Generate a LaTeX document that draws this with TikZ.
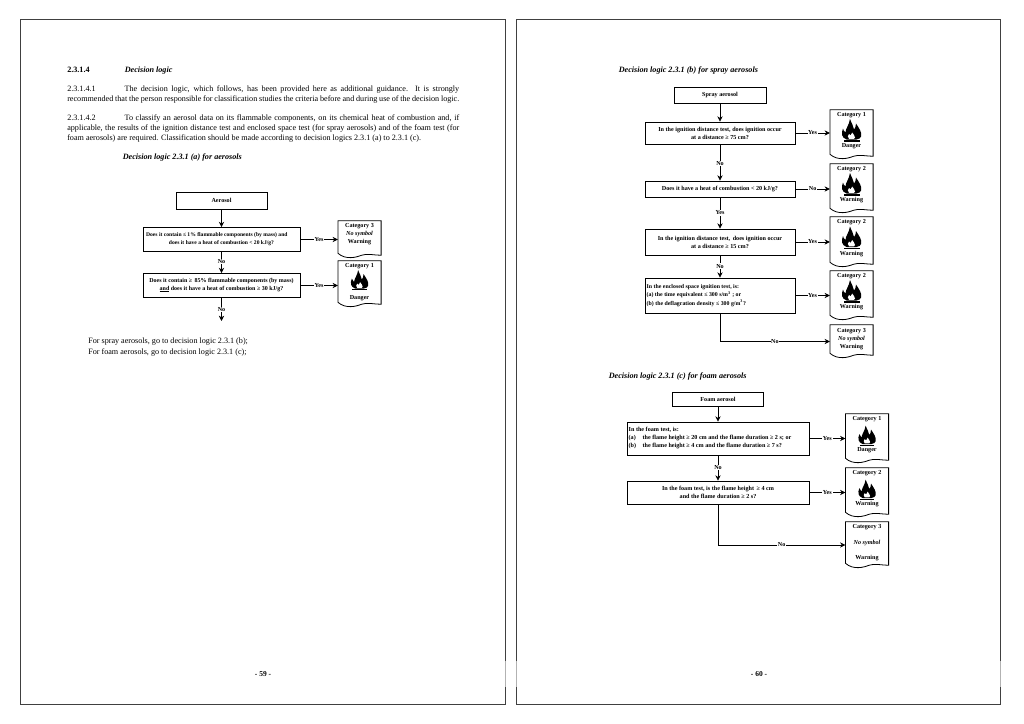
\documentclass[tikz,border=0pt]{standalone}
\usepackage{fontspec}
\setmainfont{Liberation Serif}
\usetikzlibrary{arrows.meta,calc}

\tikzset{
	pageedge/.style={draw=black!75,line width=0.75pt},
	fadeedge/.style={draw=black!30,line width=0.75pt},
	qbox/.style={draw,line width=0.6pt,inner sep=0pt,font=\fontsize{4.6}{6}\selectfont\bfseries,align=center},
	flow/.style={-{Stealth[length=4pt,width=4pt]},line width=0.6pt},
	flowlabel/.style={fill=white,inner sep=0.5pt,font=\fontsize{4.6}{5}\selectfont\bfseries},
	cattext/.style={inner sep=0pt,font=\fontsize{4.6}{6}\selectfont\bfseries,align=center},
	docbox/.style={minimum width=32pt,inner sep=0pt},
	docline/.style={line width=0.6pt},
	bodytext/.style={anchor=north west,inner sep=0pt,text width=294pt,align=justify,font=\fontsize{6.1}{7.6}\selectfont},
	headtext/.style={anchor=base west,inner sep=0pt,font=\fontsize{6.1}{8}\selectfont\bfseries},
	pics/flame/.style={code={
		% outer flame
		\fill[black] (-5,0) .. controls (-10,-2) and (-10.5,-6) .. (-8.5,-11) .. controls (-8,-9) and (-7.5,-8) .. (-6,-7)
			.. controls (-6,-11) and (-2.5,-14) .. (-1.5,-20.5) .. controls (0,-16) and (2,-14) .. (2.5,-10)
			.. controls (3.5,-11) and (4.5,-13) .. (4.5,-16) .. controls (7,-12) and (11,-7) .. (9.5,-3)
			.. controls (9,-1.5) and (8,-0.5) .. (5,0) -- cycle;
		% hole in it
		\fill[white] (-2.5,-0.7) .. controls (-4.5,-2.2) and (-3.5,-4) .. (-2.5,-5.5) .. controls (-2.2,-4.5) and (-1.5,-4.5) .. (-1,-4)
			.. controls (-0.5,-5) and (0.3,-6) .. (0.7,-7) .. controls (1.2,-5.5) and (4,-3.5) .. (3.5,-2) .. controls (3.3,-1.2) and (3,-0.9) .. (2.5,-0.7) -- cycle;
		% base bar
		\fill[black] (-8,0.8) rectangle (8,2);
	}},
}

\begin{document}
\begin{tikzpicture}[x=0.75pt,y=-0.75pt]
		\useasboundingbox (0,0) rectangle (1024,724);
		\fill[white] (0,0) rectangle (1024,724);

		% page frames
		\draw[pageedge] (505,661)--(505,20)--(20,20)--(20,704)--(505,704)--(505,687);
		\draw[pageedge] (516,661)--(516,20)--(1000,20)--(1000,661);
		\draw[pageedge] (516,687)--(516,704)--(1000,704)--(1000,687);
		\draw[fadeedge] (505,661)--(505,687);
		\draw[fadeedge] (516,661)--(516,687);
		\draw[fadeedge] (1000,661)--(1000,687);

		% text of page 59
		\node[headtext] (secnum) at (67,73) {2.3.1.4};
		\node[headtext] (sechead) at (124.5,73) {\itshape Decision logic};
		\node[bodytext] (para1) at (67,85.5) {\makebox[43pt][l]{2.3.1.4.1}The decision logic, which follows, has been provided here as additional guidance. It is strongly\linebreak recommended that the person responsible for classification studies the criteria before and during use of the decision logic.};
		\node[bodytext] (para2) at (67,114.5) {\makebox[43pt][l]{2.3.1.4.2}To classify an aerosol data on its flammable components, on its chemical heat of combustion and, if\linebreak applicable, the results of the ignition distance test and enclosed space test (for spray aerosols) and of the foam test (for\linebreak foam aerosols) are required. Classification should be made according to decision logics 2.3.1 (a) to 2.3.1 (c).};
		\node[headtext] (heada) at (122.5,159) {\itshape Decision logic 2.3.1 (a) for aerosols};
		\node[anchor=north west,inner sep=0pt,align=left,font=\fontsize{6.1}{7.9}\selectfont] (goto) at (88,338) {For spray aerosols, go to decision logic 2.3.1 (b);\\For foam aerosols, go to decision logic 2.3.1 (c);};
		\node[inner sep=0pt,font=\fontsize{5.6}{6}\selectfont\bfseries] (pagea) at (263,674) {- 59 -};
		\node[inner sep=0pt,font=\fontsize{5.6}{6}\selectfont\bfseries] (pageb) at (759,674) {- 60 -};

		% chart (a)
		\node[qbox,minimum width=68.25pt,minimum height=12.75pt] (aero) at (221.5,200.5) {Aerosol};
		\node[qbox,minimum width=117.75pt,minimum height=18pt,font=\fontsize{4.2}{6}\selectfont\bfseries] (aq1) at (221.5,239.5) {Does it contain ≤ 1\% flammable components (by mass) and\hspace*{7pt}\\does it have a heat of combustion \textless{} 20 kJ/g?};
		\node[qbox,minimum width=117.75pt,minimum height=18pt,font=\fontsize{4.5}{6}\selectfont\bfseries] (aq2) at (221.5,285.5) {Does it contain ≥ \,85\% flammable components (by mass)\\\rlap{\rule[-0.7pt]{7.2pt}{0.3pt}}and does it have a heat of combustion ≥ 30 kJ/g?};
		\coordinate (aend) at (221.5,321);
		\node[docbox,minimum height=27.75pt] (acat1) at (359.5,239.5) {};
		\node[docbox,minimum height=34.5pt] (acat2) at (359.5,284) {};
		\node[cattext] (acat1t) at (359.5,233.8) {Category 3\\\itshape No symbol\\Warning};
		\node[cattext] (acat2a) at (359.5,266.5) {Category 1};
		\node[cattext] (acat2b) at (359.5,298) {Danger};
		\pic[scale=0.9] at (359.5,288.5) {flame};
		\draw[flow] (aero)--(aq1);
		\draw[flow] (aq1)--(aq2) node[flowlabel,pos=0.45] {No};
		\draw[flow] (aq2)--(aend) node[flowlabel,pos=0.5] {No};
		\draw[flow] (aq1.east)--(aq1-|acat1.west) node[flowlabel,pos=0.5] {Yes};
		\draw[flow] (aq2.east)--(aq2-|acat2.west) node[flowlabel,pos=0.5] {Yes};

		% chart (b)
		\node[headtext] (headb) at (618.5,73) {\itshape Decision logic 2.3.1 (b) for spray aerosols};
		\node[qbox,minimum width=69pt,minimum height=12pt] (spray) at (720,95) {Spray aerosol};
		\node[qbox,minimum width=112.5pt,minimum height=16.5pt] (bq1) at (720,133) {In the ignition distance test, does ignition occur\\at a distance ≥ 75 cm?};
		\node[qbox,minimum width=112.5pt,minimum height=12pt] (bq2) at (720,189) {Does it have a heat of combustion \textless{} 20 kJ/g?};
		\node[qbox,minimum width=112.5pt,minimum height=19.5pt] (bq3) at (720,242) {In the ignition distance test, \,does ignition occur\\at a distance ≥ 15 cm?};
		\node[qbox,minimum width=112.5pt,minimum height=26.25pt,align=left,font=\fontsize{4.4}{6.3}\selectfont\bfseries] (bq4) at (720,295.5) {\makebox[110pt][l]{In the enclosed space ignition test, is:}\\(a) the time equivalent ≤ 300 s/m\textsuperscript{3} ; or\\(b) the deflagration density ≤ 300 g/m\textsuperscript{3}?};
		\node[docbox,minimum height=36.75pt] (bcat1) at (851.5,134.5) {};
		\node[docbox,minimum height=36.75pt] (bcat2) at (851.5,188.5) {};
		\node[docbox,minimum height=37.5pt] (bcat3) at (851.5,242) {};
		\node[docbox,minimum height=36.75pt] (bcat4) at (851.5,295.5) {};
		\node[docbox,minimum height=24.75pt] (bcat5) at (851.5,341.5) {};
		\foreach \nm/\yy/\cc/\ww in {bcat1/134/1/Danger,bcat2/188/2/Warning,bcat3/241.5/2/Warning,bcat4/295/2/Warning}{
			\node[cattext] (\nm a) at (851.5,\yy-19) {Category \cc};
			\node[cattext] (\nm b) at (851.5,\yy+12.5) {\ww};
			\pic at (851.5,\yy+5.5) {flame};
		}
		\node[cattext] (bcat5t) at (851.5,339) {Category 3\\\itshape No symbol\\Warning};
		\draw[flow] (spray)--(bq1);
		\draw[flow] (bq1)--(bq2) node[flowlabel,pos=0.52] {No};
		\draw[flow] (bq2)--(bq3) node[flowlabel,pos=0.5] {Yes};
		\draw[flow] (bq3)--(bq4) node[flowlabel,pos=0.48] {No};
		\draw[flow] (bq1.east)--(bq1-|bcat1.west) node[flowlabel,pos=0.5] {Yes};
		\draw[flow] (bq2.east)--(bq2-|bcat2.west) node[flowlabel,pos=0.5] {No};
		\draw[flow] (bq3.east)--(bq3-|bcat3.west) node[flowlabel,pos=0.5] {Yes};
		\draw[flow] (bq4.east)--(bq4-|bcat4.west) node[flowlabel,pos=0.5] {Yes};
		\draw[flow] (bq4.south)|-(bcat5.west) node[flowlabel,pos=0.75] {No};

		% chart (c)
		\node[headtext] (headc) at (608.5,378) {\itshape Decision logic 2.3.1 (c) for foam aerosols};
		\node[qbox,minimum width=68.25pt,minimum height=10.5pt] (foam) at (718,399) {Foam aerosol};
		\node[qbox,minimum width=136.5pt,minimum height=24.75pt,align=left] (cq1) at (718,438.5) {\makebox[134pt][l]{In the foam test, is:}\\\makebox[10.5pt][l]{(a)}the flame height ≥ 20 cm and the flame duration ≥ 2 s; or\\\makebox[10.5pt][l]{(b)}the flame height ≥ 4 cm and the flame duration ≥ 7 s?};
		\node[qbox,minimum width=136.5pt,minimum height=17.25pt] (cq2) at (718,492.5) {In the foam test, is the flame height \,≥ 4 cm\\and the flame duration ≥ 2 s?};
		\node[docbox,minimum height=36.75pt] (ccat1) at (867,438.5) {};
		\node[docbox,minimum height=36.75pt] (ccat2) at (867,492.5) {};
		\node[docbox,minimum height=34.5pt] (ccat3) at (867,545) {};
		\foreach \nm/\yy/\cc/\ww in {ccat1/438.5/1/Danger,ccat2/492.5/2/Warning}{
			\node[cattext] (\nm a) at (867,\yy-19) {Category \cc};
			\node[cattext] (\nm b) at (867,\yy+12) {\ww};
			\pic[scale=0.9] at (867,\yy+5.5) {flame};
		}
		\node[cattext] (ccat3a) at (867,527.5) {Category 3};
		\node[cattext] (ccat3b) at (867,543) {\itshape No symbol};
		\node[cattext] (ccat3c) at (867,558) {Warning};
		\draw[flow] (foam)--(cq1);
		\draw[flow] (cq1)--(cq2) node[flowlabel,pos=0.48] {No};
		\draw[flow] (cq1.east)--(cq1-|ccat1.west) node[flowlabel,pos=0.5] {Yes};
		\draw[flow] (cq2.east)--(cq2-|ccat2.west) node[flowlabel,pos=0.5] {Yes};
		\draw[flow] (cq2.south)|-(ccat3.west) node[flowlabel,pos=0.75] {No};

		% outlines of the category sheets
		\foreach \nm in {acat1,acat2,bcat1,bcat2,bcat3,bcat4,bcat5,ccat1,ccat2,ccat3}{
			\draw[docline] ($(\nm.south west)+(0,-5)$)--(\nm.north west)--(\nm.north east)--($(\nm.south east)+(0,-3)$)
				.. controls ($(\nm.south east)+(-6,-3)$) and ($(\nm.south)+(7,-5)$) .. ($(\nm.south)+(2,-3)$)
				.. controls ($(\nm.south)+(-3,-1)$) and ($(\nm.south west)+(8,2)$) .. ($(\nm.south west)+(0,-5)$);
		}
	\end{tikzpicture}
\end{document}
